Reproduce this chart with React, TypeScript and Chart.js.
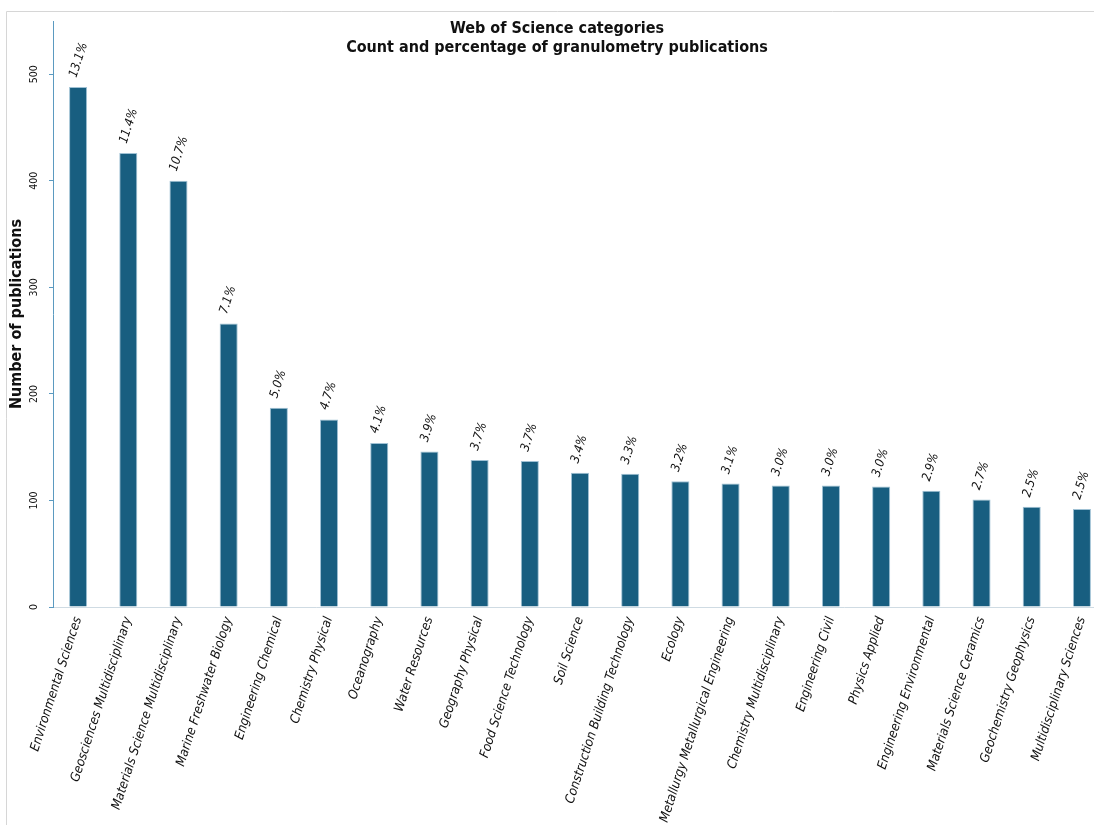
import React, { useEffect, useRef } from "react";
import { Chart, registerables } from "chart.js";

Chart.register(...registerables);

const categories = [
  "Environmental Sciences",
  "Geosciences Multidisciplinary",
  "Materials Science Multidisciplinary",
  "Marine Freshwater Biology",
  "Engineering Chemical",
  "Chemistry Physical",
  "Oceanography",
  "Water Resources",
  "Geography Physical",
  "Food Science Technology",
  "Soil Science",
  "Construction Building Technology",
  "Ecology",
  "Metallurgy Metallurgical Engineering",
  "Chemistry Multidisciplinary",
  "Engineering Civil",
  "Physics Applied",
  "Engineering Environmental",
  "Materials Science Ceramics",
  "Geochemistry Geophysics",
  "Multidisciplinary Sciences",
];

const counts = [488, 426, 400, 266, 187, 176, 154, 146, 138, 137, 126, 125, 118, 116, 114, 114, 113, 109, 101, 94, 92];

const percentLabels = ["13.1", "11.4", "10.7", "7.1", "5.0", "4.7", "4.1", "3.9", "3.7", "3.7", "3.4", "3.3", "3.2", "3.1", "3.0", "3.0", "3.0", "2.9", "2.7", "2.5", "2.5"];

const titleLines = ["Web of Science categories", "Count and percentage of granulometry publications"];
const yAxisTitle = "Number of publications";

const FONT = "'DejaVu Sans Condensed', 'DejaVu Sans', sans-serif";
const BAR_COLOR = "#185e80";
const BAR_EDGE = "#9fc1d4";
const AXIS_COLOR = "#5b9ac0";

const CANVAS_W = 1108;
const CANVAS_H = 825;

export default function App() {
  const ref = useRef<HTMLCanvasElement | null>(null);

  useEffect(() => {
    if (!ref.current) return;

    const framePlugin = {
      id: "frame",
      beforeDraw(chart: any) {
        const ctx = chart.ctx;
        ctx.save();
        ctx.fillStyle = "#ffffff";
        ctx.fillRect(0, 0, chart.width, chart.height);
        ctx.strokeStyle = "#d6d6d6";
        ctx.lineWidth = 1;
        ctx.beginPath();
        ctx.moveTo(6.5, chart.height);
        ctx.lineTo(6.5, 11.5);
        ctx.lineTo(chart.width, 11.5);
        ctx.stroke();
        ctx.restore();
      },
    };

    const titlePlugin = {
      id: "twoLineTitle",
      afterDraw(chart: any) {
        const ctx = chart.ctx;
        ctx.save();
        ctx.fillStyle = "#111111";
        ctx.font = `bold 16px ${FONT}`;
        ctx.textAlign = "center";
        ctx.textBaseline = "middle";
        ctx.fillText(titleLines[0], 557, 29);
        ctx.fillText(titleLines[1], 557, 48);
        ctx.restore();
      },
    };

    const pctPlugin = {
      id: "pctLabels",
      afterDatasetsDraw(chart: any) {
        const ctx = chart.ctx;
        const meta = chart.getDatasetMeta(0);
        ctx.save();
        ctx.fillStyle = "#111111";
        ctx.font = `italic 12.5px ${FONT}`;
        ctx.textAlign = "left";
        ctx.textBaseline = "middle";
        meta.data.forEach((el: any, i: number) => {
          ctx.save();
          ctx.translate(el.x - 5, el.y - 10);
          ctx.rotate((-72 * Math.PI) / 180);
          ctx.fillText(percentLabels[i] + "%", 0, 0);
          ctx.restore();
        });
        ctx.restore();
      },
    };

    const chart = new Chart(ref.current, {
      type: "bar",
      data: {
        labels: categories,
        datasets: [
          {
            data: counts,
            backgroundColor: BAR_COLOR,
            borderColor: BAR_EDGE,
            borderWidth: 1,
            barPercentage: 0.36,
            categoryPercentage: 1,
          },
        ],
      },
      options: {
        animation: false,
        responsive: false,
        devicePixelRatio: 1,
        layout: { padding: { top: 21, right: 1, bottom: 0, left: 0 } },
        plugins: {
          legend: { display: false },
          title: { display: false },
          tooltip: { enabled: false },
        },
        scales: {
          x: {
            offset: true,
            grid: { display: false, drawTicks: false },
            border: { display: true, color: "#cfdbe3", width: 1 },
            ticks: {
              autoSkip: false,
              minRotation: 72,
              maxRotation: 72,
              padding: 8,
              color: "#111111",
              font: { family: FONT, size: 13, style: "italic" },
            },
            afterFit(scale: any) {
              scale.height = 218;
            },
          },
          y: {
            min: 0,
            max: 550,
            grid: {
              display: true,
              drawOnChartArea: false,
              drawTicks: true,
              tickLength: 4,
              color: AXIS_COLOR,
            },
            border: { display: true, color: AXIS_COLOR, width: 1 },
            ticks: {
              stepSize: 100,
              includeBounds: false,
              minRotation: 90,
              maxRotation: 90,
              crossAlign: "center",
              padding: 6,
              color: "#111111",
              font: { family: FONT, size: 10.5 },
            },
            title: {
              display: true,
              text: yAxisTitle,
              color: "#111111",
              font: { family: FONT, size: 16, weight: "bold" },
              padding: { top: 7, bottom: 0 },
            },
            afterFit(scale: any) {
              scale.width = 53;
            },
          },
        },
      },
      plugins: [framePlugin, titlePlugin, pctPlugin],
    });

    return () => chart.destroy();
  }, []);

  return (
    <div
      style={{
        position: "fixed",
        left: 0,
        top: 0,
        width: 1094,
        height: 825,
        overflow: "hidden",
        background: "#ffffff",
      }}
    >
      <canvas
        ref={ref}
        width={CANVAS_W}
        height={CANVAS_H}
        style={{ position: "absolute", left: 0, top: 0, width: CANVAS_W, height: CANVAS_H, display: "block" }}
      />
    </div>
  );
}
